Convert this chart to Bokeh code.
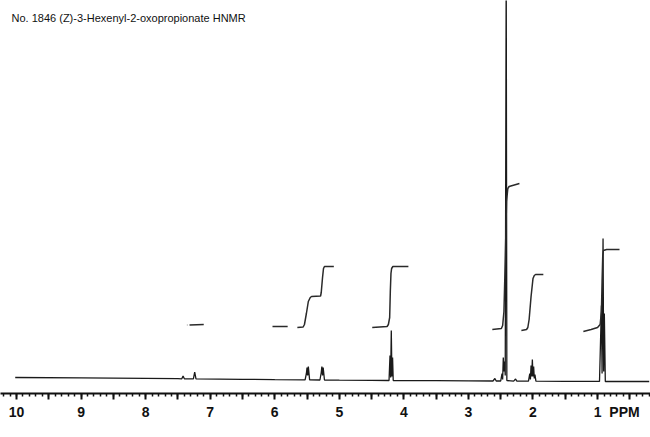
from bokeh.plotting import figure
from bokeh.models import Range1d, Label, FixedTicker, LinearAxis
from bokeh.embed import file_html
from bokeh.resources import INLINE

title_text = "No. 1846  (Z)-3-Hexenyl-2-oxopropionate HNMR"
unit_text = "PPM"
unit_position = 0.583

# spectrum trace: chemical shift (ppm) and intensity (arbitrary, 0 = baseline)
spectrum_ppm = [10.02, 9.0, 8.0, 7.5,
                7.44, 7.42, 7.40,
                7.26, 7.24, 7.22,
                6.5, 6.0,
                5.53, 5.51, 5.50, 5.49, 5.48, 5.46,
                5.30, 5.28, 5.27, 5.26, 5.25, 5.23,
                5.0, 4.5,
                4.23, 4.215, 4.205, 4.195, 4.185, 4.175, 4.165,
                3.5, 3.0, 2.62, 2.59, 2.57,
                2.50, 2.48, 2.47, 2.46, 2.45, 2.44, 2.43, 2.415, 2.405,
                2.30, 2.27, 2.25,
                2.07, 2.05, 2.04, 2.03, 2.02, 2.01, 2.00, 1.99, 1.98, 1.97, 1.955,
                1.5, 1.0,
                0.97, 0.94, 0.93, 0.915, 0.905, 0.895, 0.88,
                0.5, 0.20]
spectrum_int = [4.0, 3.6, 3.2, 2.8,
                2.7, 5.5, 2.7,
                2.6, 9.5, 2.6,
                2.2, 1.8,
                1.6, 8.0, 14.0, 6.0, 15.0, 1.6,
                1.5, 9.0, 15.0, 6.0, 14.0, 1.5,
                1.3, 1.1,
                1.0, 26.0, 4.0, 51.0, 5.0, 24.0, 1.0,
                0.8, 0.6, 0.5, 3.0, 0.5,
                0.5, 8.0, 2.0, 24.0, 10.0, 20.0, 6.0, 420.0, 1.0,
                0.4, 2.5, 0.4,
                0.4, 8.0, 2.0, 16.0, 5.0, 22.0, 5.0, 15.0, 3.0, 7.0, 0.3,
                0.2, 0.1,
                0.1, 76.0, 8.0, 143.0, 10.0, 68.0, 0.0,
                0.0, 0.0]

# integral traces (ppm, height)
integral_a_ppm = [7.36, 7.355]
integral_a_val = [56.5, 56.5]
integral_b_ppm = [7.32, 7.10]
integral_b_val = [56.5, 57.0]
integral_c_ppm = [6.035, 5.80]
integral_c_val = [55.0, 55.0]
integral_d_ppm = [5.65, 5.56, 5.54, 5.51, 5.48, 5.45, 5.43, 5.29, 5.28, 5.26, 5.245, 5.23, 5.085]
integral_d_val = [54.0, 54.5, 57.0, 68.0, 80.0, 84.0, 85.0, 85.5, 89.0, 104.0, 113.0, 115.0, 115.0]
integral_e_ppm = [4.49, 4.26, 4.24, 4.22, 4.21, 4.20, 4.19, 4.17, 3.93]
integral_e_val = [54.0, 55.0, 57.0, 64.0, 90.0, 108.0, 113.0, 115.0, 115.0]
integral_f_ppm = [2.63, 2.49, 2.47, 2.45, 2.43, 2.41, 2.39, 2.37, 2.21]
integral_f_val = [52.0, 53.0, 56.0, 70.0, 120.0, 180.0, 193.0, 195.0, 198.0]
integral_g_ppm = [2.18, 2.10, 2.08, 2.06, 2.03, 2.00, 1.98, 1.96, 1.84]
integral_g_val = [51.0, 52.0, 54.0, 62.0, 85.0, 103.0, 106.0, 107.0, 107.0]
integral_h_ppm = [1.22, 1.10, 1.00, 0.96, 0.94, 0.93, 0.92, 0.91, 0.86, 0.66]
integral_h_val = [50.0, 52.0, 54.0, 57.0, 70.0, 100.0, 125.0, 131.0, 132.0, 132.0]

major_ticks = [10, 9.5, 9, 8.5, 8, 7.5, 7, 6.5, 6, 5.5, 5, 4.5, 4, 3.5, 3, 2.5, 2, 1.5, 1, 0.5]
minor_ticks = [round(10.2 - 0.1 * i, 1) for i in range(101)]
label_ticks = [10, 9, 8, 7, 6, 5, 4, 3, 2, 1]
label_texts = ["10", "9", "8", "7", "6", "5", "4", "3", "2", "1"]

p = figure(width=650, height=437, output_backend="svg", toolbar_location=None,
           x_range=Range1d(10.248, 0.180), y_range=Range1d(-12, 381),
           y_axis_location=None, min_border_left=0, min_border_right=0,
           min_border_top=0, min_border_bottom=44, outline_line_color=None,
           background_fill_color="white", border_fill_color="white")
p.xgrid.visible = False
p.ygrid.visible = False

# axis 1: line and tick marks only
ax = p.xaxis[0]
ax.ticker = FixedTicker(ticks=major_ticks, minor_ticks=minor_ticks)
ax.major_label_overrides = {t: "" for t in major_ticks}
ax.major_label_text_font_size = "0px"
ax.major_label_standoff = 0
ax.axis_line_width = 2
ax.axis_line_color = "#111111"
ax.major_tick_line_color = "#111111"
ax.minor_tick_line_color = "#111111"
ax.major_tick_line_width = 2
ax.minor_tick_line_width = 1.5
ax.major_tick_in = 0
ax.major_tick_out = 6
ax.minor_tick_in = 0
ax.minor_tick_out = 3

# axis 2: labels only (numbers and unit)
lab_ticks = label_ticks + [unit_position]
lab_over = {t: s for t, s in zip(label_ticks, label_texts)}
lab_over[unit_position] = unit_text
ax2 = LinearAxis(ticker=FixedTicker(ticks=lab_ticks, minor_ticks=[]),
                 major_label_overrides=lab_over,
                 axis_line_color=None, major_tick_line_color=None,
                 minor_tick_line_color=None, major_tick_out=0, major_tick_in=0,
                 minor_tick_out=0, minor_tick_in=0, major_label_standoff=4,
                 major_label_text_font="Liberation Sans",
                 major_label_text_font_size="14px",
                 major_label_text_font_style="bold",
                 major_label_text_color="#111111")
p.add_layout(ax2, "below")

p.line(spectrum_ppm, spectrum_int, line_color="#1a1a1a", line_width=1.3)

integ_xs = [integral_a_ppm, integral_b_ppm, integral_c_ppm, integral_d_ppm,
            integral_e_ppm, integral_f_ppm, integral_g_ppm, integral_h_ppm]
integ_ys = [integral_a_val, integral_b_val, integral_c_val, integral_d_val,
            integral_e_val, integral_f_val, integral_g_val, integral_h_val]
p.multi_line(integ_xs, integ_ys, line_color="#2a2a2a", line_width=1.5)

p.add_layout(Label(x=10.077, y=364, text=title_text, text_font="Liberation Sans",
                   text_font_size="11px", text_color="#111111", text_baseline="middle"))

open("out.html", "w").write(file_html(p, INLINE))
